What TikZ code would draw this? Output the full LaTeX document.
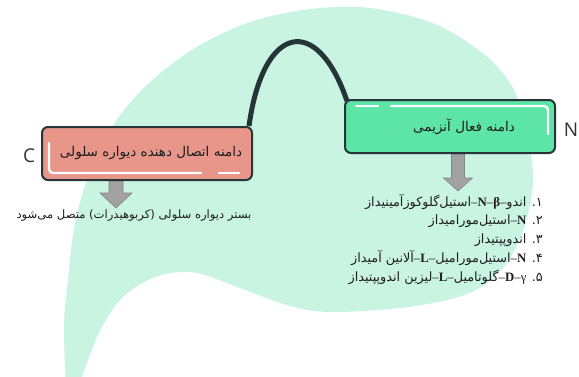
\documentclass[tikz,border=0pt]{standalone}
\usepackage{fontspec}
\setmainfont{Liberation Serif}
\newfontfamily\fa[Script=Arabic]{DejaVu Sans}
\newfontfamily\lat{Open Sans}
\TeXXeTstate=1
\usetikzlibrary{backgrounds}
\definecolor{blobc}{HTML}{C9F4E2}
\definecolor{pinkc}{HTML}{E8968A}
\definecolor{greenc}{HTML}{5DE4A7}
\definecolor{edgec}{HTML}{263638}
\definecolor{arrowf}{HTML}{A2A2A2}
\definecolor{arrowd}{HTML}{858585}
\definecolor{txtc}{HTML}{1E1E1E}
\tikzset{
  domainbox/.style={draw=edgec, line width=2pt, rounded corners=6pt,
    minimum width=210pt, minimum height=53pt, inner sep=0pt, text=txtc},
  shine/.style={draw=white, line width=2.4pt, line cap=round, rounded corners=4pt},
  conn/.style={draw=edgec, line width=5pt},
  blockarrow/.style={fill=arrowf, draw=arrowd, line width=0.6pt},
  endlabel/.style={font=\lat\fontsize{19}{20}\selectfont, text=black!80, inner sep=0pt},
  fatext/.style={text=txtc, inner sep=0pt},
}
\begin{document}
\begin{tikzpicture}[x=1pt,y=-1pt]
\useasboundingbox (0,0) rectangle (579,376);
\clip (0,0) rectangle (579,376);

% domain boxes
\node[domainbox, fill=pinkc] (pink) at (147,153.5)
  {\hspace*{8pt}\fa\fontsize{13.5}{15}\selectfont\beginR دامنه اتصال دهنده دیواره سلولی\endR};
\node[domainbox, fill=greenc] (green) at (450,126.5)
  {\hspace*{28pt}\fa\fontsize{13.5}{15}\selectfont\beginR دامنه فعال آنزیمی\endR};

% highlights
\draw[shine] ([xshift=8pt,yshift=38pt]pink.south west) |- ([xshift=160pt,yshift=8pt]pink.south west);
\draw[shine] ([xshift=178pt,yshift=8pt]pink.south west) -- ([xshift=198pt,yshift=8pt]pink.south west);
\draw[shine] ([xshift=12pt,yshift=-7pt]green.north west) -- ([xshift=34pt,yshift=-7pt]green.north west);
\draw[shine] ([xshift=47pt,yshift=-7pt]green.north west) -| ([xshift=-8pt,yshift=-35pt]green.north east);

% end labels
\node[endlabel] (cterm) at (29,156) {C};
\node[endlabel] (nterm) at (571,130) {N};

\coordinate (pa) at ([xshift=-31pt]pink.south);
\coordinate (ga) at ([xshift=8pt]green.south);

\begin{scope}[on background layer]
  \fill[blobc] plot[smooth cycle, tension=0.55] coordinates {
    (70,400) (64,330) (68,280) (73,235) (82,195) (97,155) (118,118) (150,82)
    (195,48) (250,22) (310,9) (370,8) (435,24) (485,55) (513,88) (527,130)
    (533,180) (525,225) (509,260) (486,284) (455,298) (400,308) (330,312) (290,306)
    (240,288) (205,275) (180,272) (150,279) (120,300) (98,335) };
  \draw[conn] ([xshift=-4pt]pink.north east) .. controls +(14,-102) and +(-30,-88) .. ([xshift=3pt,yshift=-2pt]green.north west);
  \draw[blockarrow] ([xshift=-7pt]pa) -- ++(0,12) -- ++(-9,0) -- ++(16,15) -- ++(16,-15) -- ++(-9,0) -- ++(0,-12) -- cycle;
  \draw[blockarrow] ([xshift=-6.5pt]ga) -- ++(0,24) -- ++(-8,0) -- ++(14.5,13) -- ++(14.5,-13) -- ++(-8,0) -- ++(0,-24) -- cycle;
\end{scope}

% result texts
\node[fatext] (substrate) at (134,216)
  {\fa\fontsize{11.6}{13}\selectfont\beginR بستر دیواره سلولی (کربوهیدرات) متصل می‌شود\endR};

\node[fatext, anchor=north east, align=right, font=\fontsize{12.8}{18.7}\selectfont] (enzymes) at (543,194)
  {\beginR{\fa ۱. اندو}\beginL–\textbf{N}–\textbf{β}–\endL{\fa استیل‌گلوکوزآمینیداز}\endR\\
   \beginR{\fa ۲. }\beginL–\textbf{N}\endL{\fa استیل‌مورامیداز}\endR\\
   \beginR{\fa ۳. اندوپپتیداز}\endR\\
   \beginR{\fa ۴. }\beginL–\textbf{N}\endL{\fa استیل‌مورامیل}\beginL–\textbf{L}–\endL{\fa آلانین آمیداز}\endR\\
   \beginR{\fa ۵. }\beginL–\textbf{D}–γ\endL{\fa گلوتامیل}\beginL–\textbf{L}–\endL{\fa لیزین اندوپپتیداز}\endR};
\end{tikzpicture}
\end{document}
